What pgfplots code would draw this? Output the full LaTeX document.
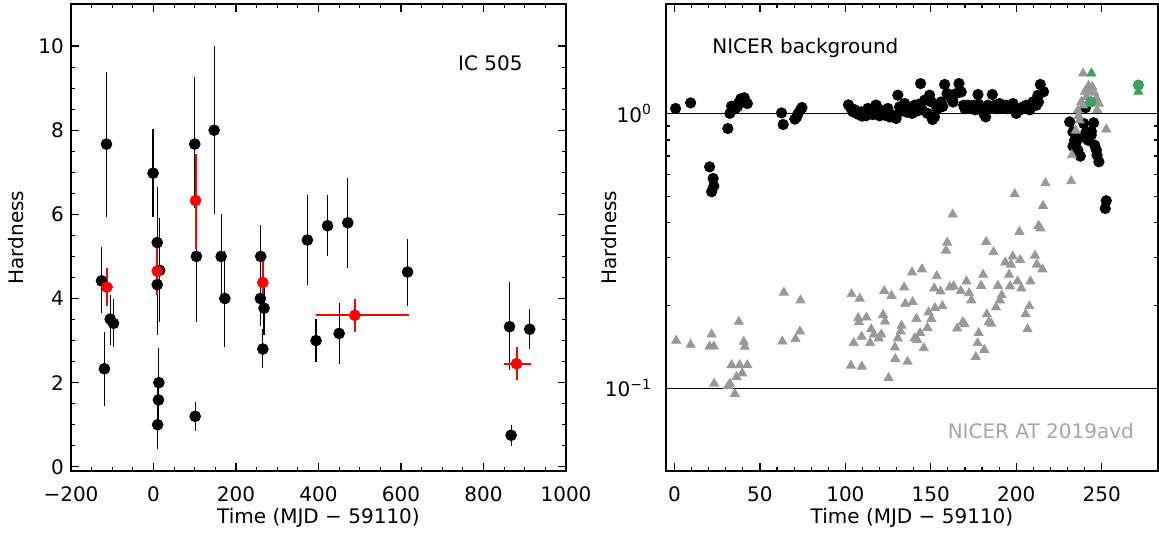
\documentclass[border=0pt]{standalone}
\usepackage{fontspec}
\setmainfont{DejaVu Sans}
\usepackage{pgfplots}
\pgfplotsset{compat=1.18}

\definecolor{trigray}{RGB}{152,152,152}
\definecolor{grn}{RGB}{60,160,90}
\definecolor{labgray}{RGB}{165,165,165}
\definecolor{ptred}{RGB}{255,0,0}

\pgfplotsset{
  hpanel/.style={
    scale only axis,
    height=233.5pt,
    tick align=inside,
    major tick length=4pt,
    minor tick length=2pt,
    every tick/.style={black, line width=0.6pt},
    axis line style={line width=0.7pt},
    /pgf/number format/assume math mode=true,
    tick label style={font=\fontsize{10}{12}\selectfont},
    xticklabel style={yshift=-4.5pt},
    label style={font=\fontsize{10}{12}\selectfont},
    xlabel style={at={(axis description cs:0.5,-0.1006)}, anchor=center},
    xlabel={Time (MJD − 59110)},
    ylabel={Hardness},
  },
}

\begin{document}
\begin{tikzpicture}[font=\fontsize{10}{12}\selectfont]
\useasboundingbox (-35.5pt,-33.5pt) rectangle (544pt,235.5pt);

% left panel: IC 505
\begin{axis}[hpanel,
  name=L, at={(0,0)}, anchor=south west,
  width=247.5pt,
  xmin=-200, xmax=1000, ymin=-0.1, ymax=11,
  xtick={-200,0,200,400,600,800,1000},
  xticklabels={−200,0,200,400,600,800,1000},
  ytick={0,2,4,6,8,10},
  minor x tick num=3, minor y tick num=3,
  ylabel style={at={(axis description cs:-0.111,0.5)}, anchor=center},
]
\addplot[only marks, black, mark=*, mark size=2.7pt,
  error bars/.cd, y dir=both, y explicit, error mark=none,
  error bar style={line width=0.6pt, draw=black}]
coordinates {
  (-126,4.42) += (0,0.80) -= (0,0.77)
  (-114,7.67) += (0,1.72) -= (0,1.73)
  (-119,2.33) += (0,0.87) -= (0,0.88)
  (-105,3.51) += (0,0.57) -= (0,0.61)
  (-97,3.41)  += (0,0.57) -= (0,0.57)
  (-1,6.98)   += (0,1.04) -= (0,1.04)
  (9,5.33)    += (0,1.32) -= (0,1.33)
  (9,4.33)    += (0,0.90) -= (0,1.19)
  (15,4.67)   += (0,1.25) -= (0,1.24)
  (13,2.00)   += (0,0.82) -= (0,0.78)
  (12,1.59)   += (0,0.60) -= (0,0.60)
  (10,1.00)   += (0,0.88) -= (0,0.58)
  (100,7.67)  += (0,1.60) -= (0,1.51)
  (104,5.00)  += (0,1.57) -= (0,1.57)
  (101,1.20)  += (0,0.33) -= (0,0.34)
  (147,8.00)  += (0,2.00) -= (0,2.00)
  (164,5.00)  += (0,1.00) -= (0,1.00)
  (173,4.00)  += (0,1.14) -= (0,1.16)
  (260,5.00)  += (0,0.74) -= (0,0.74)
  (259,4.00)  += (0,0.60) -= (0,0.65)
  (268,3.77)  += (0,0.56) -= (0,0.63)
  (265,2.80)  += (0,0.47) -= (0,0.45)
  (373,5.39)  += (0,1.08) -= (0,1.08)
  (394,3.00)  += (0,0.51) -= (0,0.51)
  (422,5.73)  += (0,0.72) -= (0,0.71)
  (450,3.17)  += (0,0.73) -= (0,0.72)
  (471,5.80)  += (0,1.07) -= (0,1.08)
  (616,4.63)  += (0,0.78) -= (0,0.81)
  (863,3.33)  += (0,1.06) -= (0,1.04)
  (867,0.75)  += (0,0.25) -= (0,0.26)
  (912,3.27)  += (0,0.47) -= (0,0.48)
};
\addplot[only marks, ptred, mark=*, mark size=2.7pt,
  error bars/.cd, x dir=both, x explicit, y dir=both, y explicit, error mark=none,
  error bar style={line width=1pt, ptred}]
coordinates {
  (-113,4.27) += (16,0.45) -= (11,0.45)
  (9,4.65)    += (0,0.57) -= (0,0.57)
  (102,6.33)  += (0,1.11) -= (0,1.15)
  (265,4.38)  += (0,0.50) -= (0,0.50)
  (488,3.60)  += (131,0.40) -= (93,0.40)
  (880,2.45)  += (35,0.39) -= (31,0.39)
};
\node[anchor=east] at (axis cs:912,9.6) {IC 505};
\end{axis}

% right panel: NICER
\begin{axis}[hpanel,
  name=R, at={(297.5pt,0)}, anchor=south west,
  width=246pt,
  ymode=log,
  xmin=-5, xmax=283, ymin=0.05, ymax=2.5,
  xtick={0,50,100,150,200,250},
  ytick={0.1,1},
  yticklabels={10\textsuperscript{−1},10\textsuperscript{0}},
  yticklabel style={xshift=-3.5pt},
  minor x tick num=4,
  ymajorgrids,
  major grid style={black, line width=0.6pt},
  ylabel style={at={(axis description cs:-0.116,0.5)}, anchor=center},
]
\addplot[only marks, black, mark=*, mark size=2.6pt] coordinates {
  (0.6,1.042) (9.4,1.092) (20.5,0.639) (22.6,0.580) (23.0,0.544) (21.7,0.519)
  (31.2,0.881) (32.4,1.0) (33.4,1.062) (35.4,1.04) (36.7,1.056) (37.5,1.09)
  (38.8,1.13) (39.2,1.123) (40.8,1.14) (41.0,1.10) (42.6,1.086)
  (62.6,1.004) (63.6,0.911) (70.4,0.953) (71.5,0.97) (72.2,0.996) (73.7,1.03) (74.6,1.05)
  (101.8,1.074) (103.3,1.044) (104.4,1.014) (105.5,1.03) (106.6,1.0) (108,0.99)
  (109.3,1.013) (109.8,0.977) (111,1.0) (112,0.98) (113.2,1.042) (114,1.01)
  (115,1.0) (116,0.99) (117.7,1.07) (118.1,1.071) (119,1.0) (120,0.98)
  (121.0,1.027) (122,1.0) (123,0.985) (124.9,1.042) (126,0.97) (127.8,0.985)
  (129.7,0.958) (130.7,1.165) (131.7,1.056) (133,1.02) (134.7,1.086) (136,1.01)
  (137.6,1.042) (139,1.0) (140.5,1.071) (142,1.02) (143,1.08) (144.0,1.284)
  (145,1.03) (146.4,1.117) (148,1.0) (149.3,1.165) (150.3,1.101) (151,0.95)
  (152.2,0.971) (153.6,1.042) (155,1.05) (156,1.1) (157,1.06) (158.1,1.274)
  (159.5,1.181) (161,1.17) (162.0,1.133) (163,1.1) (164.9,1.181) (166.5,1.284)
  (167.8,1.197) (169.2,1.071) (170,1.04) (171.7,1.071) (173,1.05) (174.6,1.071)
  (176,1.03) (177.6,1.171) (178,1.08) (179.6,1.042) (181,1.0) (182.1,0.971)
  (183.4,1.071) (184,1.04) (186.0,1.171) (187.4,1.071) (189,1.04) (190.3,1.086)
  (192,1.05) (194.2,1.071) (195,1.04) (197,1.05) (198.1,1.086) (199,1.03)
  (200,1.0) (202.0,1.027) (203.9,1.056) (205.9,1.071) (207,1.04) (208,1.03)
  (209.8,1.101) (211.8,1.071) (212.7,1.165) (213,1.1) (214.1,1.274) (215.6,1.197) (216,1.2)
  (240.6,1.05) (231.3,0.931) (233.2,0.857) (234.2,0.799) (233.2,0.760) (236.1,0.735)
  (237.5,0.699) (239.5,0.919) (241.0,0.857) (242.0,0.799) (245.3,0.924) (243.9,0.834)
  (245.9,0.766) (246.9,0.735) (247.3,0.705) (248.4,0.667) (238,0.82) (235,0.78) (244,0.86)
  (252.7,0.481) (252.1,0.451)
};
\addplot[only marks, trigray, mark=triangle*, mark size=2.6pt] coordinates {
  (1.0,0.149) (9.4,0.144) (21.7,0.157) (20.5,0.142) (23.0,0.142) (23.2,0.104)
  (31.4,0.102) (32.4,0.104) (35.3,0.0954) (33.4,0.1215) (36.3,0.110) (38.1,0.1215)
  (39.6,0.1134) (42.6,0.1215) (37.6,0.1746) (40.5,0.1477) (41.1,0.1417)
  (63.1,0.148) (64.0,0.223) (70.8,0.151) (73.4,0.161) (73.7,0.209)
  (103.6,0.220) (108.4,0.212) (103.2,0.121) (109.6,0.120) (104.9,0.146) (107.5,0.180)
  (112.3,0.181) (107.9,0.174) (109.5,0.154) (115.1,0.164) (116.7,0.157) (114.5,0.146)
  (119.5,0.152) (121.0,0.157) (122.1,0.185) (123.2,0.175) (122.7,0.226) (127.0,0.217)
  (125.3,0.109) (129.0,0.141) (129.2,0.128) (130.7,0.152) (132.3,0.161) (132.9,0.169)
  (134.4,0.233) (135.1,0.203) (136.4,0.125) (139.0,0.264) (139.4,0.206) (140.5,0.152)
  (141.6,0.179) (142.0,0.150) (143.7,0.159) (144.8,0.271) (145.9,0.140) (148.0,0.166)
  (148.7,0.189) (150.3,0.179) (152.4,0.196) (153.5,0.256) (152.0,0.231) (156.8,0.199)
  (155.7,0.225) (158.9,0.317) (159.6,0.339) (161.1,0.233) (162.8,0.429) (163.3,0.235)
  (165.4,0.165) (167.6,0.226) (168.7,0.174) (169.8,0.171) (170.9,0.245) (172.4,0.222)
  (173.7,0.209) (176.3,0.130) (177.4,0.146) (178.0,0.159) (179.5,0.236) (180.6,0.259)
  (181.3,0.138) (182.4,0.341) (182.8,0.186) (183.9,0.174) (185.4,0.172) (186.7,0.313)
  (188.2,0.197) (189.3,0.236) (190.4,0.209) (191.5,0.218) (193.6,0.287) (195.8,0.259)
  (196.4,0.235) (196.9,0.282) (198.0,0.302) (199.1,0.509) (200.8,0.245) (201.9,0.371)
  (202.3,0.293) (203.0,0.231) (205.5,0.186) (206.6,0.164) (207.7,0.199) (208.3,0.245)
  (211.0,0.304) (212.1,0.282) (213.1,0.390) (214.2,0.382) (215.3,0.271) (215.7,0.461)
  (217.1,0.558)
  (232.2,0.567) (232.6,0.705) (239.1,1.397) (243,1.197) (241.0,1.148) (238.1,1.101)
  (247,1.133) (248.4,1.086) (236.1,1.027) (252.7,0.874) (240.2,1.20) (242.3,1.26)
  (245.7,1.19) (246.7,1.12) (239.3,1.07) (237.1,0.944) (234.9,0.866) (247.4,1.03)
  (244.5,1.25) (236.5,0.98)
};
\addplot[only marks, grn, mark=triangle*, mark size=2.6pt] coordinates {
  (244.0,1.397) (271.5,1.20)
};
\addplot[only marks, grn, mark=*, mark size=2.6pt] coordinates {
  (243.6,1.101) (271.5,1.268)
};
\node[anchor=west] at (axis cs:18,1.73) {NICER background};
\node[anchor=east, text=labgray] at (axis cs:273,0.07) {NICER AT 2019avd};
\end{axis}
\end{tikzpicture}
\end{document}
